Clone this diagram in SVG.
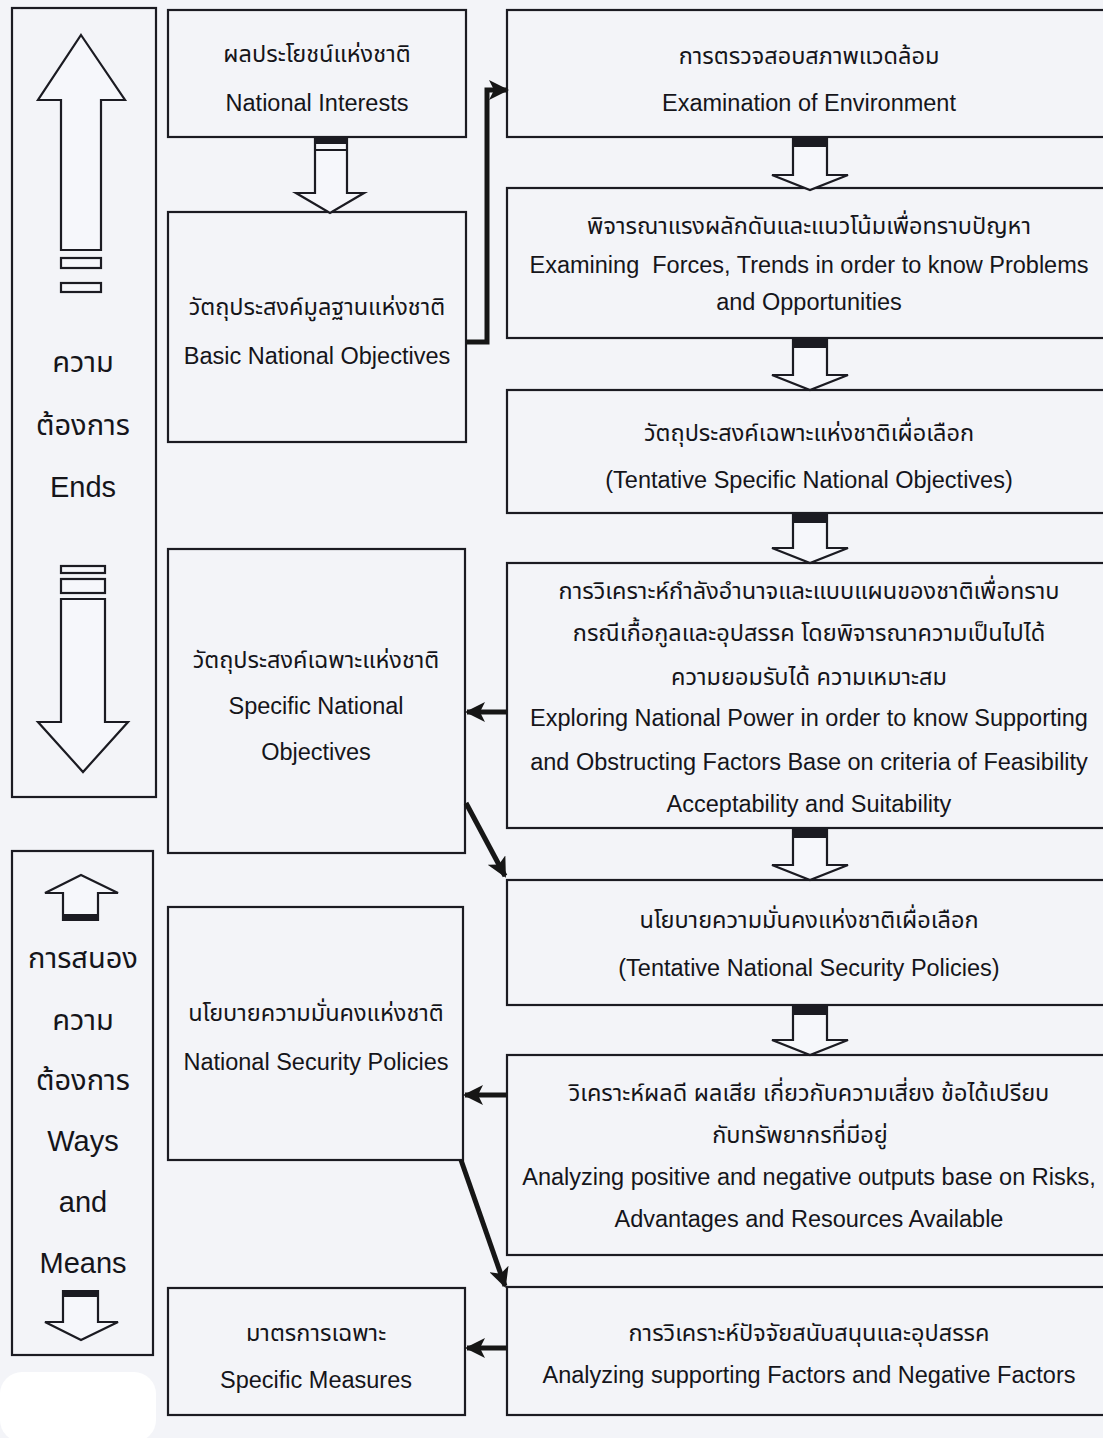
<svg xmlns="http://www.w3.org/2000/svg" width="1103" height="1438" viewBox="0 0 1103 1438">
<style>
.box{fill:none;stroke:#1b1b22;stroke-width:2.2}
.hol{fill:#f6f7fb;stroke:#1b1b22;stroke-width:2.2;stroke-linejoin:miter}
.band{fill:#1b1b22}
.t{font-family:"Liberation Sans","Noto Sans Thai","Noto Sans",sans-serif;font-size:23.5px;fill:#15151a;text-anchor:middle}
.big{font-size:29px}
.con{fill:none;stroke:#161616;stroke-width:5}
</style>
<defs>
<marker id="ah" markerUnits="userSpaceOnUse" markerWidth="22" markerHeight="20" refX="18" refY="10" orient="auto">
<path d="M0,0 L20,10 L0,20 L5,10 Z" fill="#161616"/>
</marker>
</defs>
<rect x="0" y="0" width="1103" height="1438" fill="#f3f4f8"/>
<rect x="0" y="1372" width="156" height="70" rx="22" fill="#ffffff"/>

<g id="ends">
<rect class="box" x="12" y="8" width="144" height="789"/>
<polygon class="hol" points="81,35 125,100 101,100 101,250 61,250 61,100 38,100"/>
<rect class="hol" x="61" y="258" width="40" height="10"/>
<rect class="hol" x="61" y="283" width="40" height="9"/>
<text class="t big" x="83" y="372">ความ</text>
<text class="t big" x="83" y="435">ต้องการ</text>
<text class="t big" x="83" y="497">Ends</text>
<rect class="hol" x="61" y="566" width="44" height="7"/>
<rect class="hol" x="61" y="579" width="44" height="14"/>
<polygon class="hol" points="61,599 105,599 105,722 128,722 83,772 38,722 61,722"/>
</g>

<g id="ways">
<rect class="box" x="12" y="851" width="141" height="504"/>
<polygon class="hol" points="81,875 118,893 98,893 98,920 63,920 63,893 45,893"/>
<rect class="band" x="63" y="914" width="35" height="6"/>
<text class="t big" x="83" y="968">การสนอง</text>
<text class="t big" x="83" y="1030">ความ</text>
<text class="t big" x="83" y="1090">ต้องการ</text>
<text class="t big" x="83" y="1151">Ways</text>
<text class="t big" x="83" y="1212">and</text>
<text class="t big" x="83" y="1273">Means</text>
<polygon class="hol" points="63,1291 98,1291 98,1322 118,1322 81,1340 45,1322 63,1322"/>
<rect class="band" x="63" y="1291" width="35" height="6"/>
</g>

<g id="national-interests">
<rect class="box" x="168" y="10" width="298" height="127"/>
<text class="t" x="317" y="62">ผลประโยชน์แห่งชาติ</text>
<text class="t" x="317" y="111">National Interests</text>
</g>
<g id="basic-objectives">
<rect class="box" x="168" y="212" width="298" height="230"/>
<text class="t" x="317" y="315">วัตถุประสงค์มูลฐานแห่งชาติ</text>
<text class="t" x="317" y="364">Basic National Objectives</text>
</g>
<g id="specific-objectives">
<rect class="box" x="168" y="549" width="297" height="304"/>
<text class="t" x="316" y="668">วัตถุประสงค์เฉพาะแห่งชาติ</text>
<text class="t" x="316" y="714">Specific National</text>
<text class="t" x="316" y="760">Objectives</text>
</g>
<g id="security-policies">
<rect class="box" x="168" y="907" width="295" height="253"/>
<text class="t" x="316" y="1021">นโยบายความมั่นคงแห่งชาติ</text>
<text class="t" x="316" y="1070">National Security Policies</text>
</g>
<g id="specific-measures">
<rect class="box" x="168" y="1288" width="297" height="127"/>
<text class="t" x="316" y="1341">มาตรการเฉพาะ</text>
<text class="t" x="316" y="1388">Specific Measures</text>
</g>

<g id="r1">
<rect class="box" x="507" y="10" width="620" height="127"/>
<text class="t" x="809" y="64">การตรวจสอบสภาพแวดล้อม</text>
<text class="t" x="809" y="111">Examination of Environment</text>
</g>
<g id="r2">
<rect class="box" x="507" y="188" width="620" height="150"/>
<text class="t" x="809" y="234">พิจารณาแรงผลักดันและแนวโน้มเพื่อทราบปัญหา</text>
<text class="t" x="809" y="273" xml:space="preserve">Examining  Forces, Trends in order to know Problems</text>
<text class="t" x="809" y="310">and Opportunities</text>
</g>
<g id="r3">
<rect class="box" x="507" y="390" width="620" height="123"/>
<text class="t" x="809" y="441">วัตถุประสงค์เฉพาะแห่งชาติเผื่อเลือก</text>
<text class="t" x="809" y="488">(Tentative Specific National Objectives)</text>
</g>
<g id="r4">
<rect class="box" x="507" y="563" width="620" height="265"/>
<text class="t" x="809" y="599">การวิเคราะห์กำลังอำนาจและแบบแผนของชาติเพื่อทราบ</text>
<text class="t" x="809" y="641">กรณีเกื้อกูลและอุปสรรค โดยพิจารณาความเป็นไปได้</text>
<text class="t" x="809" y="685">ความยอมรับได้ ความเหมาะสม</text>
<text class="t" x="809" y="726">Exploring National Power in order to know Supporting</text>
<text class="t" x="809" y="770">and Obstructing Factors Base on criteria of Feasibility</text>
<text class="t" x="809" y="812">Acceptability and Suitability</text>
</g>
<g id="r5">
<rect class="box" x="507" y="880" width="620" height="125"/>
<text class="t" x="809" y="928">นโยบายความมั่นคงแห่งชาติเผื่อเลือก</text>
<text class="t" x="809" y="976">(Tentative National Security Policies)</text>
</g>
<g id="r6">
<rect class="box" x="507" y="1055" width="620" height="200"/>
<text class="t" x="809" y="1101">วิเคราะห์ผลดี ผลเสีย เกี่ยวกับความเสี่ยง ข้อได้เปรียบ</text>
<text class="t" x="800" y="1143">กับทรัพยากรที่มีอยู่</text>
<text class="t" x="809" y="1185">Analyzing positive and negative outputs base on Risks,</text>
<text class="t" x="809" y="1227">Advantages and Resources Available</text>
</g>
<g id="r7">
<rect class="box" x="507" y="1287" width="620" height="128"/>
<text class="t" x="809" y="1341">การวิเคราะห์ปัจจัยสนับสนุนและอุปสรรค</text>
<text class="t" x="809" y="1383">Analyzing supporting Factors and Negative Factors</text>
</g>

<g id="connectors">
<polygon class="hol" points="315,137 347,137 347,193 364,193 330,213 296,193 315,193"/>
<rect class="band" x="315" y="138" width="32" height="6"/>
<line x1="315" y1="150" x2="347" y2="150" stroke="#1b1b22" stroke-width="2"/>
<polygon class="hol" points="793,137 827,137 827,175 848,175 810,190 772,175 793,175"/>
<rect class="band" x="793" y="138" width="34" height="9"/>
<polygon class="hol" points="793,338 827,338 827,375 848,375 810,390 772,375 793,375"/>
<rect class="band" x="793" y="339" width="34" height="9"/>
<polygon class="hol" points="793,513 827,513 827,548 848,548 810,563 772,548 793,548"/>
<rect class="band" x="793" y="514" width="34" height="9"/>
<polygon class="hol" points="793,828 827,828 827,865 848,865 810,880 772,865 793,865"/>
<rect class="band" x="793" y="829" width="34" height="9"/>
<polygon class="hol" points="793,1005 827,1005 827,1040 848,1040 810,1055 772,1040 793,1040"/>
<rect class="band" x="793" y="1006" width="34" height="9"/>
<polyline class="con" points="466,342 487,342 487,90 507,90" marker-end="url(#ah)"/>
<line class="con" x1="507" y1="712" x2="467" y2="712" marker-end="url(#ah)"/>
<line class="con" x1="466" y1="803" x2="505" y2="876" marker-end="url(#ah)"/>
<line class="con" x1="507" y1="1095" x2="465" y2="1095" marker-end="url(#ah)"/>
<line class="con" x1="461" y1="1160" x2="505" y2="1286" marker-end="url(#ah)"/>
<line class="con" x1="507" y1="1348" x2="467" y2="1348" marker-end="url(#ah)"/>
</g>
</svg>
